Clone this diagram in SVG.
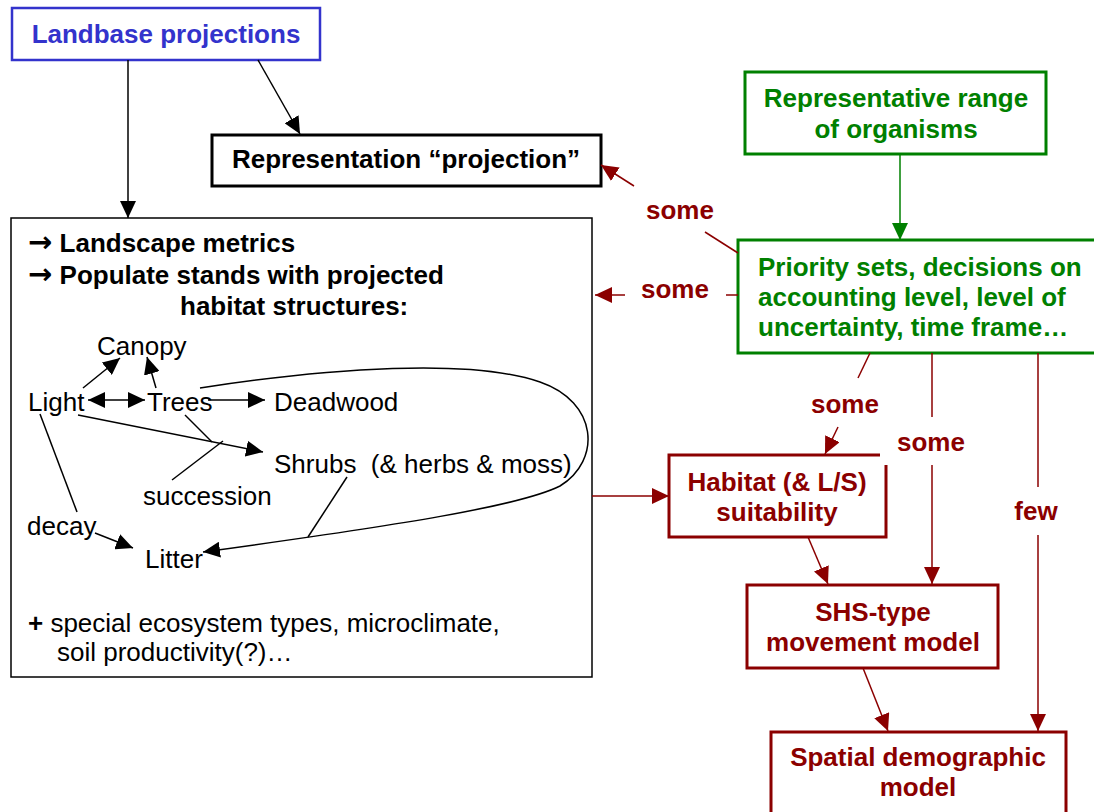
<svg xmlns="http://www.w3.org/2000/svg" width="1094" height="812" viewBox="0 0 1094 812">
<style>
text{font-family:"Liberation Sans",Arial,sans-serif;font-size:26px}
.b{font-weight:bold}
.c{text-anchor:middle}
.arw{font-family:"DejaVu Sans",sans-serif;font-weight:bold;font-size:29px}
.blue{fill:#3333cc}
.grn{fill:#008000}
.red{fill:#8b0000}
.box{fill:#fff}
.ln{fill:none;stroke-width:1.5}
.k{stroke:#000}
.r{stroke:#8b0000}
.g{stroke:#008000}
</style>
<defs>
<marker id="ak" markerUnits="userSpaceOnUse" markerWidth="18" markerHeight="16" refX="17" refY="8" orient="auto-start-reverse"><path d="M0,0 L17,8 L0,16 z" fill="#000"/></marker>
<marker id="ar" markerUnits="userSpaceOnUse" markerWidth="18" markerHeight="16" refX="17" refY="8" orient="auto"><path d="M0,0 L17,8 L0,16 z" fill="#8b0000"/></marker>
<marker id="ag" markerUnits="userSpaceOnUse" markerWidth="18" markerHeight="16" refX="17" refY="8" orient="auto"><path d="M0,0 L17,8 L0,16 z" fill="#008000"/></marker>
</defs>
<rect width="1094" height="812" fill="#fff"/>

<g id="landbase">
<rect x="12" y="8" width="308" height="52" class="box" stroke="#3333cc" stroke-width="2.5"/>
<text x="166" y="43" class="b c blue">Landbase projections</text>
</g>

<g id="representation">
<rect x="212" y="135" width="389" height="51" class="box" stroke="#000" stroke-width="3"/>
<text x="406" y="168" class="b c">Representation “projection”</text>
</g>

<g id="habitat-structures">
<rect x="11" y="218" width="581" height="459" class="box" stroke="#000" stroke-width="1.5"/>
<text x="28" y="252" class="b"><tspan class="arw">→</tspan> Landscape metrics</text>
<text x="28" y="284" class="b"><tspan class="arw">→</tspan> Populate stands with projected</text>
<text x="180" y="315" class="b">habitat structures:</text>
<text x="97" y="355">Canopy</text>
<text x="28" y="411">Light</text>
<text x="147" y="411">Trees</text>
<text x="274" y="411">Deadwood</text>
<text x="274" y="473" xml:space="preserve">Shrubs  (&amp; herbs &amp; moss)</text>
<text x="143" y="505">succession</text>
<text x="27" y="535">decay</text>
<text x="145" y="568">Litter</text>
<text x="28" y="632"><tspan class="b">+</tspan> special ecosystem types, microclimate,</text>
<text x="57" y="661">soil productivity(?)…</text>
<g class="ln k">
<path d="M83,388 L120,358" marker-end="url(#ak)"/>
<path d="M156,388 L147,357" marker-end="url(#ak)"/>
<path d="M88,400 L145,400" marker-start="url(#ak)" marker-end="url(#ak)"/>
<path d="M208,400 L265,400" marker-end="url(#ak)"/>
<path d="M78,415 L263,452" marker-end="url(#ak)"/>
<path d="M185,415 L212,442"/>
<path d="M172,480 L223,441"/>
<path d="M40,414 L77,512"/>
<path d="M95,533 L133,548" marker-end="url(#ak)"/>
<path d="M347,477 L308,537"/>
<path d="M200,388 C330,368 470,358 540,382 C598,402 602,460 560,486 C520,506 400,525 203,552" marker-end="url(#ak)"/>
</g>
</g>

<g id="representative-range">
<rect x="745" y="72" width="301" height="82" class="box" stroke="#008000" stroke-width="3"/>
<text x="896" y="107" class="b c grn">Representative range</text>
<text x="896" y="138" class="b c grn">of organisms</text>
</g>

<g id="priority-sets">
<rect x="738" y="240" width="370" height="113" class="box" stroke="#008000" stroke-width="3"/>
<text x="758" y="276" class="b grn">Priority sets, decisions on</text>
<text x="758" y="306" class="b grn">accounting level, level of</text>
<text x="758" y="336" class="b grn">uncertainty, time frame…</text>
</g>

<g id="habitat-suitability">
<path d="M880,455 L669,455 L669,537 L886,537 L886,465" fill="#fff" stroke="#8b0000" stroke-width="3"/>
<text x="777" y="491" class="b c red">Habitat (&amp; L/S)</text>
<text x="777" y="521" class="b c red">suitability</text>
</g>

<g id="shs-movement">
<rect x="747" y="585" width="251" height="83" class="box" stroke="#8b0000" stroke-width="3"/>
<text x="873" y="621" class="b c red">SHS-type</text>
<text x="873" y="651" class="b c red">movement model</text>
</g>

<g id="spatial-demographic">
<rect x="771" y="732" width="295" height="100" class="box" stroke="#8b0000" stroke-width="3"/>
<text x="918" y="766" class="b c red">Spatial demographic</text>
<text x="918" y="796" class="b c red">model</text>
</g>

<g id="connectors">
<path class="ln k" d="M128,60 L128,218" marker-end="url(#ak)"/>
<path class="ln k" d="M258,60 L300,134" marker-end="url(#ak)"/>
<path class="ln g" d="M900,154 L900,240" marker-end="url(#ag)"/>
<path class="ln r" d="M738,253 L705,232"/>
<path class="ln r" d="M634,186 L601,165" marker-end="url(#ar)"/>
<path class="ln r" d="M738,295 L726,295"/>
<path class="ln r" d="M625,295 L595,295" marker-end="url(#ar)"/>
<path class="ln r" d="M870,353 L858,378"/>
<path class="ln r" d="M838,427 L825,454" marker-end="url(#ar)"/>
<path class="ln r" d="M932,353 L932,417"/>
<path class="ln r" d="M932,465 L932,584" marker-end="url(#ar)"/>
<path class="ln r" d="M1038,353 L1038,487"/>
<path class="ln r" d="M1038,535 L1038,731" marker-end="url(#ar)"/>
<path class="ln r" d="M592,496 L669,496" marker-end="url(#ar)"/>
<path class="ln r" d="M808,537 L828,584" marker-end="url(#ar)"/>
<path class="ln r" d="M863,668 L888,731" marker-end="url(#ar)"/>
<text x="680" y="219" class="b c red">some</text>
<text x="675" y="298" class="b c red">some</text>
<text x="845" y="413" class="b c red">some</text>
<text x="931" y="451" class="b c red">some</text>
<text x="1036" y="520" class="b c red">few</text>
</g>
</svg>
